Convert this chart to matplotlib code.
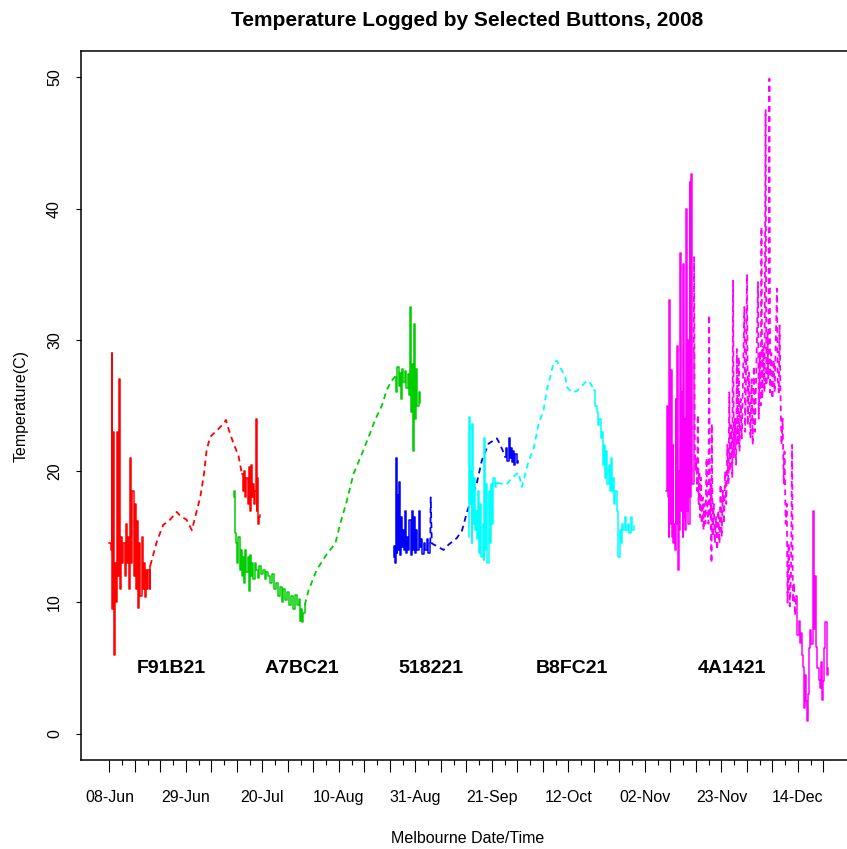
import numpy as np
import pandas as pd
import matplotlib
matplotlib.use("Agg")
import matplotlib.pyplot as plt
import matplotlib.dates as mdates
from matplotlib.ticker import FixedLocator, FuncFormatter

plt.rcParams['font.family'] = ['Liberation Sans', 'DejaVu Sans']

# days since 08-Jun-2008 and logged temperature (C)
# each button: spiky start (solid), smoother middle (dashed), spiky end (solid)
red_a_day = [0.0, 0.31, 0.62, 0.83, 1.04, 1.25, 1.45, 1.77, 2.08, 2.39, 2.70, 2.91, 3.22,
             3.53, 3.84, 4.15, 4.47, 4.78, 5.19, 5.51, 5.71, 6.02, 6.34, 6.65, 6.96, 7.27,
             7.58, 7.89, 8.21, 8.52, 8.83, 9.14, 9.45, 9.76, 10.08, 10.39, 10.70, 11.01, 11.22]
red_a_temp = [14.5, 14.0, 29.0, 9.5, 23.0, 6.0, 13.0, 10.0, 23.0, 12.0, 27.0, 11.0, 15.0, 13.0,
              14.5, 12.0, 16.0, 13.0, 15.0, 11.0, 21.0, 13.0, 18.5, 12.0, 17.5, 11.0, 16.2, 9.6,
              14.5, 10.5, 15.0, 11.0, 13.0, 10.4, 12.5, 11.0, 12.5, 11.0, 12.8]
red_b_day = [11.22, 12.98, 14.75, 16.62, 18.49, 19.42, 21.19, 22.64, 23.99, 24.93, 25.97,
             26.69, 27.63, 29.50, 31.26, 31.99, 32.72, 34.07, 35.42, 36.35]
red_b_temp = [12.8, 14.6, 15.9, 16.3, 16.9, 16.6, 16.3, 15.5, 17.0, 18.0, 19.8, 21.6, 22.6,
              23.1, 23.6, 23.9, 23.2, 22.1, 21.2, 19.8]
red_c_day = [36.35, 36.67, 36.98, 37.29, 37.60, 37.91, 38.22, 38.54, 38.85, 39.16, 39.47,
             39.78, 39.99, 40.20, 40.41, 40.61, 40.82, 41.13, 41.34]
red_c_temp = [19.8, 18.5, 20.0, 18.0, 19.5, 17.5, 20.3, 17.0, 20.5, 18.0, 19.0, 17.5, 18.5,
              24.0, 17.0, 19.5, 16.0, 16.5, 16.7]

green_a_day = [34.07, 34.28, 34.48, 34.80, 35.11, 35.42, 35.73, 36.04, 36.35, 36.67, 36.98,
               37.29, 37.60, 37.91, 38.22, 38.54, 38.85, 39.16, 39.47, 39.89, 40.30, 40.72,
               41.13, 41.55, 42.07, 42.59, 43.11, 43.63, 44.14, 44.66, 45.18, 45.70, 46.22,
               46.74, 47.26, 47.78, 48.30, 48.82, 49.34, 49.86, 50.38, 50.90, 51.42, 51.94,
               52.25, 52.56, 52.87, 53.18, 53.60]
green_a_temp = [18.0, 18.5, 15.3, 14.5, 13.0, 15.0, 12.5, 14.0, 12.0, 13.5, 11.5, 14.0, 12.3,
                13.5, 10.9, 13.6, 12.0, 13.0, 11.8, 13.0, 12.5, 11.9, 12.8, 12.2, 12.5, 11.8,
                12.3, 12.0, 11.5, 12.2, 11.0, 11.5, 10.5, 11.2, 10.0, 11.0, 10.2, 10.8, 9.8,
                10.5, 9.5, 10.6, 9.8, 10.3, 8.6, 9.5, 8.5, 9.2, 9.8]
green_b_day = [53.60, 54.64, 56.92, 59.73, 62.01, 63.36, 65.23, 67.00, 69.28, 71.57, 72.92,
               74.79, 76.14, 77.49, 78.42]
green_b_temp = [9.8, 10.9, 12.5, 13.7, 14.5, 16.0, 17.8, 19.8, 21.3, 22.9, 23.9, 25.0, 26.2,
                26.9, 27.2]
green_c_day = [78.42, 78.73, 79.05, 79.36, 79.67, 79.98, 80.29, 80.60, 81.02, 81.43, 81.85,
               82.27, 82.58, 82.78, 82.99, 83.20, 83.41, 83.62, 83.82, 84.14, 84.45, 84.86,
               85.17]
green_c_temp = [27.2, 26.0, 27.9, 26.5, 27.5, 25.5, 27.8, 26.8, 27.6, 26.3, 27.4, 25.8, 32.5,
                24.5, 28.2, 25.0, 21.5, 31.2, 24.0, 27.8, 25.0, 26.0, 25.2]

blue_a_day = [78.01, 78.21, 78.42, 78.63, 78.84, 79.05, 79.25, 79.46, 79.67, 79.98, 80.29,
              80.60, 80.91, 81.12, 81.33, 81.64, 82.06, 82.37, 82.68, 82.99, 83.30, 83.62,
              83.93, 84.24, 84.55, 84.86, 85.17, 85.49, 85.90, 86.32, 86.73, 87.15, 87.56,
              88.08]
blue_a_temp = [13.5, 14.3, 13.0, 21.0, 13.8, 18.2, 14.0, 19.2, 13.6, 16.5, 14.2, 15.5, 14.0,
               17.0, 13.8, 15.0, 14.0, 16.3, 13.6, 17.0, 14.0, 16.5, 13.8, 15.5, 14.0, 17.0,
               14.2, 14.8, 13.7, 14.5, 14.0, 14.8, 13.8, 14.5]
blue_b_day = [88.08, 88.19, 88.50, 91.72, 93.07, 95.35, 96.81, 98.16, 100.86, 102.21, 104.08,
              106.36, 107.30, 108.65]
blue_b_temp = [14.5, 18.0, 14.5, 14.0, 14.4, 14.9, 15.5, 16.9, 19.1, 20.8, 22.1, 22.5, 22.0,
               21.1]
blue_c_day = [108.65, 108.96, 109.27, 109.58, 109.89, 110.21, 110.52, 110.83, 111.14, 111.45,
              111.87, 112.18]
blue_c_temp = [21.1, 21.8, 20.8, 22.5, 21.0, 21.8, 20.7, 21.5, 20.5, 21.3, 20.6, 20.8]

cyan_a_day = [98.57, 98.78, 98.99, 99.20, 99.40, 99.61, 99.82, 100.03, 100.23, 100.55, 100.86,
              101.17, 101.48, 101.79, 102.10, 102.42, 102.73, 102.94, 103.14, 103.45, 103.77,
              104.08, 104.39, 104.70, 105.01, 105.32, 105.74, 106.05, 106.36]
cyan_a_temp = [15.0, 24.1, 17.5, 20.0, 14.5, 23.6, 16.0, 19.5, 15.5, 17.0, 14.8, 18.5, 13.8,
               17.5, 13.5, 16.0, 13.2, 22.5, 14.0, 19.0, 13.0, 18.5, 14.5, 19.0, 16.0, 19.5,
               18.8, 19.1, 19.1]
cyan_b_day = [106.36, 109.06, 110.52, 112.28, 113.22, 114.15, 115.09, 116.44, 117.79, 119.14,
              120.07, 121.01, 121.94, 122.88, 123.71, 125.16, 125.58, 126.93, 128.28, 129.73,
              131.08, 132.02, 132.95]
cyan_b_temp = [19.1, 19.0, 19.5, 19.9, 18.8, 19.8, 20.8, 21.7, 23.6, 24.6, 26.2, 27.2, 28.3,
               28.4, 27.9, 27.2, 26.4, 26.0, 26.1, 26.5, 26.9, 26.7, 26.2]
cyan_c_day = [132.95, 133.37, 133.78, 134.20, 134.51, 134.82, 135.13, 135.45, 135.76, 136.07,
              136.38, 136.69, 137.00, 137.32, 137.63, 137.94, 138.25, 138.56, 138.87, 139.19,
              139.50, 139.70, 140.02, 140.33, 140.64, 141.06, 141.47, 141.89, 142.30, 142.72,
              143.13, 143.45, 143.86]
cyan_c_temp = [26.2, 25.0, 24.5, 23.5, 24.0, 22.5, 23.0, 20.5, 22.0, 19.5, 21.5, 19.0, 20.5,
               18.5, 21.0, 18.5, 19.5, 17.5, 18.5, 17.0, 16.5, 13.5, 15.5, 14.5, 16.0, 15.5,
               16.5, 15.5, 16.0, 15.3, 16.5, 15.5, 15.8]

magenta_a_day = [152.90, 153.10, 153.31, 153.52, 153.73, 153.94, 154.14, 154.35, 154.56,
                 154.77, 154.97, 155.18, 155.39, 155.60, 155.81, 156.01, 156.22, 156.43,
                 156.74, 156.95, 157.16, 157.36, 157.47, 157.67, 157.88, 158.09, 158.30,
                 158.51, 158.71, 158.92, 159.23, 159.44, 159.75, 159.96, 160.38]
magenta_a_temp = [18.5, 25.0, 18.0, 15.0, 33.0, 16.0, 27.7, 15.0, 22.0, 14.5, 16.0, 14.0, 25.5,
                  16.0, 29.5, 12.5, 20.0, 15.5, 36.6, 17.0, 26.0, 15.0, 35.8, 16.5, 24.0, 15.5,
                  40.0, 17.0, 30.0, 16.0, 42.0, 18.0, 42.6, 19.0, 29.0]
magenta_b_day = [160.38, 160.48, 160.69, 160.89, 161.10, 161.31, 161.52, 161.73, 161.93,
                 162.14, 162.35, 162.56, 162.87, 163.08, 163.28, 163.60, 163.91, 164.11,
                 164.43, 164.63, 164.84, 165.05, 165.26, 165.36, 165.57, 165.88, 166.19,
                 166.50, 166.82, 167.13, 167.44, 167.75, 168.06, 168.37, 168.68, 169.00,
                 169.31, 169.62, 169.93, 170.14, 170.35, 170.66, 170.97, 171.18, 171.39,
                 171.70, 172.01, 172.22, 172.42, 172.74, 172.94, 173.26, 173.57, 173.88,
                 174.29, 174.50, 174.71, 175.02, 175.23, 175.54, 175.96, 176.27, 176.58,
                 176.89, 177.20, 177.62, 178.03, 178.24, 178.55, 178.76, 178.97, 179.18,
                 179.49, 179.80, 180.11, 180.32, 180.63, 180.84, 181.15, 181.36, 181.67,
                 181.98, 182.29, 182.60, 182.92, 183.23, 183.43, 183.75, 183.95, 184.16,
                 184.47, 184.78, 185.10, 185.30, 185.62, 185.93, 186.13, 186.45, 186.76,
                 187.07, 187.38, 187.59, 187.90, 188.21, 188.52]
magenta_b_temp = [29.0, 36.3, 22.0, 20.0, 21.0, 18.5, 24.3, 17.5, 20.0, 16.5, 19.5, 16.0, 18.0,
                  15.5, 17.5, 16.0, 21.0, 17.0, 16.0, 31.9, 16.5, 19.0, 13.0, 23.6, 15.0, 17.5,
                  14.5, 16.5, 14.0, 17.0, 14.5, 19.0, 15.0, 18.5, 16.0, 20.0, 17.5, 22.0, 19.0,
                  26.0, 20.0, 23.5, 19.5, 34.5, 21.0, 24.0, 20.5, 29.3, 22.0, 28.7, 21.5, 25.5,
                  22.5, 26.5, 32.5, 23.0, 27.0, 35.0, 23.5, 27.5, 22.5, 27.0, 22.0, 28.0, 23.0,
                  28.5, 34.4, 24.0, 29.0, 25.0, 38.6, 25.5, 29.5, 26.0, 47.5, 26.5, 30.5, 27.0,
                  49.9, 26.0, 29.0, 25.5, 28.5, 26.0, 30.0, 33.9, 27.0, 26.0, 31.1, 26.5, 22.0,
                  24.0, 19.0, 21.5, 16.0, 17.5, 10.0, 14.5, 9.7, 12.0, 22.0, 10.0, 11.5, 9.0,
                  10.5]
magenta_c_day = [188.52, 188.84, 189.15, 189.46, 189.77, 190.08, 190.39, 190.60, 190.91,
                 191.12, 191.43, 191.74, 192.06, 192.37, 192.68, 193.09, 193.30, 193.61,
                 194.03, 194.34, 194.65, 194.96, 195.28, 195.59, 195.90, 196.21, 196.52,
                 196.83, 197.25]
magenta_c_temp = [10.5, 7.5, 8.6, 6.9, 7.7, 6.0, 5.1, 2.0, 4.5, 2.5, 1.0, 3.0, 6.5, 7.9, 6.8,
                  17.0, 8.0, 12.0, 6.6, 5.0, 4.1, 3.5, 5.5, 2.6, 4.0, 6.5, 8.5, 4.5, 5.0]

buttons = ["F91B21", "A7BC21", "518221", "B8FC21", "4A1421"]
button_colors = ["#FF0000", "#00CD00", "#0000FF", "#00FFFF", "#FF00FF"]
label_day = [16.9, 52.9, 88.3, 127.0, 170.9]
label_temp = [5, 5, 5, 5, 5]

start = pd.Timestamp("2008-06-08")


def to_dates(days):
    return start + pd.to_timedelta(np.array(days), unit="D")


segments = [
    (red_a_day, red_a_temp, red_b_day, red_b_temp, red_c_day, red_c_temp),
    (green_a_day, green_a_temp, green_b_day, green_b_temp, green_c_day, green_c_temp),
    (blue_a_day, blue_a_temp, blue_b_day, blue_b_temp, blue_c_day, blue_c_temp),
    (cyan_a_day, cyan_a_temp, cyan_b_day, cyan_b_temp, cyan_c_day, cyan_c_temp),
    (magenta_a_day, magenta_a_temp, magenta_b_day, magenta_b_temp, magenta_c_day, magenta_c_temp),
]

fig = plt.figure(figsize=(8.47, 8.49), dpi=100)
ax = fig.add_axes([0.0956, 0.1048, 0.9132, 0.8351])

lw = 1.1
for (ad, at, bd, bt, cd, ct), col in zip(segments, button_colors):
    ax.plot(to_dates(ad), at, color=col, lw=lw, drawstyle="steps-post")
    ax.plot(to_dates(bd), bt, color=col, lw=lw + 0.2, linestyle=(0, (3.2, 2.4)))
    ax.plot(to_dates(cd), ct, color=col, lw=lw, drawstyle="steps-post")

for name, d, t in zip(buttons, label_day, label_temp):
    ax.text(to_dates([d])[0], t, name, ha="center", va="center",
            fontsize=14, fontweight="bold")

ax.set_xlim(to_dates([-7.8])[0], to_dates([204.5])[0])
ax.set_ylim(-2, 52)

# weekly ticks, labels every three weeks, short ticks half-way between
major = pd.date_range("2008-06-08", "2008-12-21", freq="7D")
minor = pd.date_range("2008-06-11 12:00", "2008-12-17 12:00", freq="7D")
start_num = mdates.date2num(start)
ax.xaxis.set_major_locator(FixedLocator(mdates.date2num(major)))
ax.xaxis.set_minor_locator(FixedLocator(mdates.date2num(minor)))


def fmt(x, pos):
    if int(round(x - start_num)) % 21 == 0:
        return mdates.num2date(x).strftime("%d-%b")
    return ""


ax.xaxis.set_major_formatter(FuncFormatter(fmt))
ax.tick_params(axis="x", which="major", length=8.3, width=0.8, pad=13, labelsize=11.5)
ax.tick_params(axis="x", which="minor", length=3.6, width=0.8)

ax.set_yticks([0, 10, 20, 30, 40, 50])
ax.tick_params(axis="y", length=3.6, width=0.8, pad=10, labelsize=11.5, labelrotation=90)
for lab in ax.get_yticklabels():
    lab.set_va("center")

for s in ax.spines.values():
    s.set_linewidth(1.1)

ax.set_xlabel("Melbourne Date/Time", fontsize=11.5)
ax.xaxis.set_label_coords(0.5, -0.110)
ax.xaxis.label.set_va("center")
ax.set_ylabel("Temperature(C)", fontsize=11.5)
ax.yaxis.set_label_coords(-0.077, 0.5)
ax.yaxis.label.set_va("center")

fig.text(0.552, 1 - 20 / 849, "Temperature Logged by Selected Buttons, 2008",
         ha="center", va="center", fontsize=15, fontweight="bold")

fig.savefig("out.png", dpi=100)
